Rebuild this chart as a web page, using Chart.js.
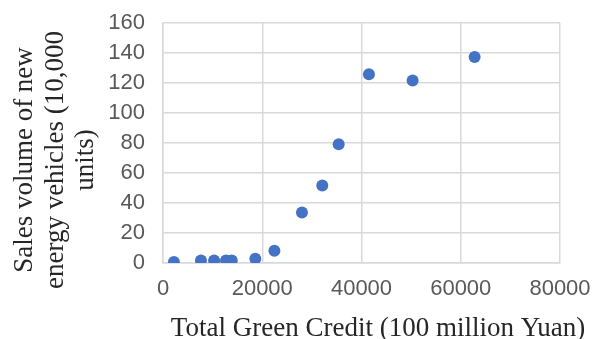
<!DOCTYPE html>
<html>
<head>
<meta charset="utf-8">
<script src="https://cdn.jsdelivr.net/npm/chart.js@4.4.1/dist/chart.umd.min.js"></script>
<style>
  html, body { margin: 0; padding: 0; background: #fff; }
  #wrap { width: 595px; height: 339px; position: relative; }
</style>
</head>
<body>
<div id="wrap"><canvas id="chart" width="595" height="339"></canvas></div>
<script>
// values
const greenCredit = [2200, 7650, 10300, 12700, 13850, 18600, 22450, 28000, 32100, 35400, 41500, 50300, 62800];
const nevSales = [0.7, 1.7, 1.7, 1.7, 1.7, 2.9, 8.2, 33.6, 51.6, 79.1, 125.9, 121.7, 137.4];

const xTicks = [0, 20000, 40000, 60000, 80000];
const yTicks = [0, 20, 40, 60, 80, 100, 120, 140, 160];

const xTitle = "Total Green Credit (100 million Yuan)";
const yTitle = ["Sales volume of new", "energy vehicles (10,000", "units)"];

const points = greenCredit.map((x, i) => ({ x: x, y: nevSales[i] }));

const gridColor = "#d9d9d9";
const tickFont = { family: "'Liberation Sans', Arial, sans-serif", size: 22 };

// axis titles are placed by hand, the reference has them off-centre
const axisTitles = {
  id: "axisTitles",
  afterDraw(chart) {
    const ctx = chart.ctx;
    ctx.save();
    ctx.fillStyle = "#262626";
    ctx.font = "27px 'Liberation Serif', 'Times New Roman', serif";
    ctx.textAlign = "center";
    ctx.textBaseline = "alphabetic";
    ctx.fillText(xTitle, 378, 336);

    ctx.textBaseline = "middle";
    const lineX = [25, 55.5, 86];
    yTitle.forEach((line, i) => {
      ctx.save();
      ctx.translate(lineX[i], 160);
      ctx.rotate(-Math.PI / 2);
      ctx.fillText(line, 0, 0);
      ctx.restore();
    });
    ctx.restore();
  }
};

new Chart(document.getElementById("chart"), {
  type: "scatter",
  data: {
    datasets: [
      {
        data: points,
        backgroundColor: "#4472C4",
        borderColor: "#4472C4",
        pointRadius: 6,
        pointHoverRadius: 6,
        borderWidth: 0
      }
    ]
  },
  options: {
    responsive: false,
    animation: false,
    events: [],
    layout: { padding: 0 },
    plugins: {
      legend: { display: false },
      tooltip: { enabled: false }
    },
    scales: {
      x: {
        type: "linear",
        min: xTicks[0],
        max: xTicks[xTicks.length - 1],
        afterBuildTicks: (s) => { s.ticks = xTicks.map((v) => ({ value: v })); },
        afterFit: (s) => {
          s.height = 76;
          s.paddingLeft = 0;
          s.paddingRight = 35;
        },
        grid: { color: gridColor, lineWidth: 1.5, drawTicks: false },
        border: { color: gridColor, width: 1.5 },
        ticks: {
          color: "#595959",
          font: tickFont,
          padding: 13,
          maxRotation: 0,
          autoSkip: false,
          callback: (v) => String(v)
        }
      },
      y: {
        min: yTicks[0],
        max: yTicks[yTicks.length - 1],
        afterBuildTicks: (s) => { s.ticks = yTicks.map((v) => ({ value: v })); },
        afterFit: (s) => {
          s.width = 163;
          s.paddingTop = 23;
          s.paddingBottom = 0;
        },
        grid: { color: gridColor, lineWidth: 1.5, drawTicks: false },
        border: { color: gridColor, width: 1.5 },
        ticks: {
          color: "#595959",
          font: tickFont,
          padding: 18,
          autoSkip: false,
          callback: (v) => String(v)
        }
      }
    }
  },
  plugins: [axisTitles]
});
</script>
</body>
</html>
